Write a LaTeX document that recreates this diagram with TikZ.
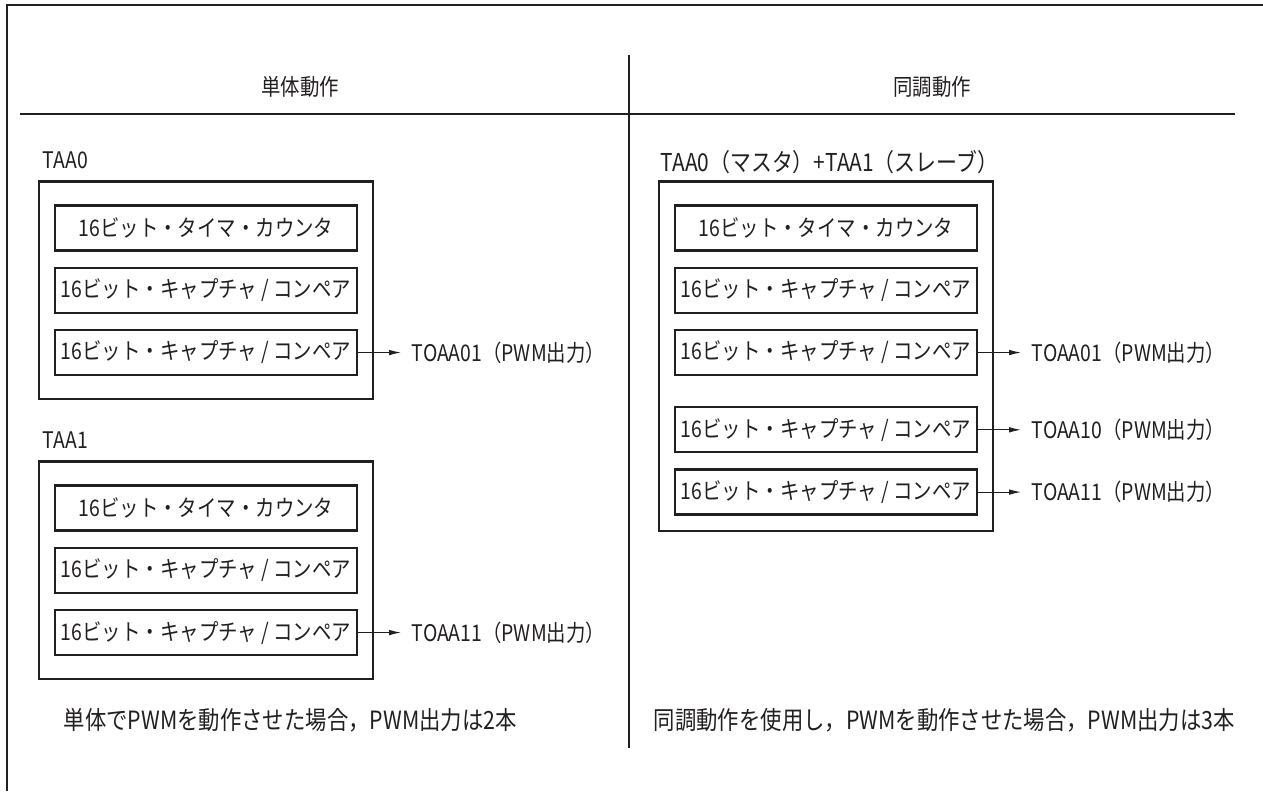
\documentclass[tikz,border=0pt]{standalone}
\usepackage{fontspec}
\setmainfont{Noto Sans CJK JP}[FakeStretch=0.85]
\usetikzlibrary{arrows.meta, positioning, fit, calc}
\definecolor{ink}{HTML}{231F20}

\begin{document}
\begin{tikzpicture}[
  x=0.02cm, y=-0.02cm,
  node distance=3mm and 10mm,
  blk/.style={draw=ink, line width=1.3pt, minimum width=6.04cm, minimum height=0.9cm,
              inner sep=0pt, font=\fontsize{13}{15}\selectfont, text=ink},
  grp/.style={draw=ink, line width=1.3pt, inner sep=0pt},
  lbl/.style={font=\fontsize{13}{15}\selectfont, text=ink, inner sep=2pt},
  note/.style={lbl, font=\fontsize{14.3}{16}\selectfont},
  arr/.style={-{Latex[length=2.4mm, width=1.1mm]}, line width=0.6pt, draw=ink, shorten >=1.4mm},
  rule/.style={draw=ink, line width=1.2pt}
]
\useasboundingbox (0,0) rectangle (1263,791);

% frame and table rules
\draw[ink, line width=1.6pt] (7,791) -- (7,5) -- (1263,5);
\draw[rule] (20,114) -- (1235,114);
\draw[rule] (629,55) -- (629,748);

\node[lbl] (hsolo) at (300,87) {単体動作};
\node[lbl] (hsync) at (932,87) {同調動作};

% TAA0
\node[lbl, anchor=west] (ta0) at (39,160) {TAA0};
\node[blk] (a1) at (206,228) {16ビット・タイマ・カウンタ};
\node[blk, below=of a1] (a2) {16ビット・キャプチャ / コンペア};
\node[blk, below=of a2] (a3) {16ビット・キャプチャ / コンペア};
\node[grp, fit={($(a1.north west)+(-15,-23)$) ($(a3.south east)+(15,23)$)}] (ga) {};
\node[lbl, right=of a3] (oa01) {TOAA01（PWM出力）};
\draw[arr] (a3) -- (oa01);

% TAA1
\node[lbl, anchor=west] (ta1) at (39,440) {TAA1};
\node[blk] (c1) at (206,508) {16ビット・タイマ・カウンタ};
\node[blk, below=of c1] (c2) {16ビット・キャプチャ / コンペア};
\node[blk, below=of c2] (c3) {16ビット・キャプチャ / コンペア};
\node[grp, fit={($(c1.north west)+(-15,-23)$) ($(c3.south east)+(15,23)$)}] (gc) {};
\node[lbl, right=of c3] (oc11) {TOAA11（PWM出力）};
\draw[arr] (c3) -- (oc11);

% TAA0 + TAA1
\node[lbl, anchor=west, font=\fontsize{14}{16}\selectfont] (tsync) at (657,162)
  {TAA0（マスタ）+TAA1（スレーブ）};
\node[blk] (b1) at (826,228) {16ビット・タイマ・カウンタ};
\node[blk, below=of b1] (b2) {16ビット・キャプチャ / コンペア};
\node[blk, below=of b2] (b3) {16ビット・キャプチャ / コンペア};
\node[blk, below=6mm of b3] (b4) {16ビット・キャプチャ / コンペア};
\node[blk, below=of b4] (b5) {16ビット・キャプチャ / コンペア};
\node[grp, fit={($(b1.north west)+(-15,-23)$) ($(b5.south east)+(15,15)$)}] (gb) {};
\node[lbl, right=of b3] (ob01) {TOAA01（PWM出力）};
\node[lbl, right=of b4] (ob10) {TOAA10（PWM出力）};
\node[lbl, right=of b5] (ob11) {TOAA11（PWM出力）};
\draw[arr] (b3) -- (ob01);
\draw[arr] (b4) -- (ob10);
\draw[arr] (b5) -- (ob11);

% notes
\node[note, anchor=west] (nsolo) at (60,720)
  {単体でPWMを動作させた場合，PWM出力は2本};
\node[note, anchor=west] (nsync) at (650,720)
  {同調動作を使用し，PWMを動作させた場合，PWM出力は3本};

\end{tikzpicture}
\end{document}
